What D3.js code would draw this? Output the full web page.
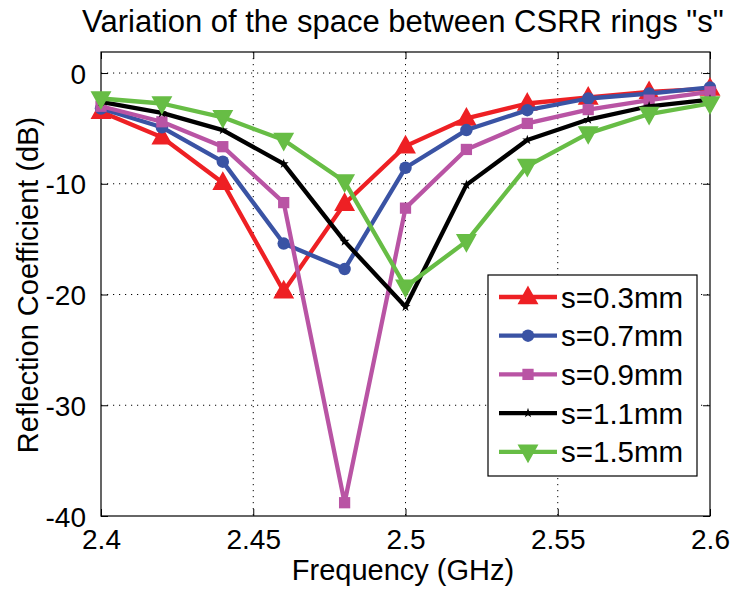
<!DOCTYPE html>
<html>
<head>
<meta charset="utf-8">
<script src="https://cdn.jsdelivr.net/npm/d3@7"></script>
<style>
  body { margin: 0; background: #fff; }
  text { font-family: "Liberation Sans", Arial, sans-serif; fill: #000; }
</style>
</head>
<body>
<div id="chart"></div>
<script>
// data
var freq = [2.40, 2.42, 2.44, 2.46, 2.48, 2.50, 2.52, 2.54, 2.56, 2.58, 2.60];
var s03 = [-3.5, -5.8, -9.9, -19.7, -11.8, -6.6, -4.1, -2.75, -2.2, -1.7, -1.4];
var s07 = [-3.2, -4.9, -8.0, -15.4, -17.7, -8.55, -5.15, -3.35, -2.3, -1.85, -1.3];
var s09 = [-3.0, -4.4, -6.65, -11.7, -38.8, -12.2, -6.9, -4.55, -3.3, -2.45, -1.7];
var s11 = [-2.6, -3.6, -5.15, -8.2, -15.2, -21.1, -10.1, -6.05, -4.2, -3.0, -2.4];
var s15 = [-2.3, -2.75, -4.0, -6.05, -9.8, -19.3, -15.2, -8.4, -5.45, -3.7, -2.75];
var seriesNames = ["s=0.3mm", "s=0.7mm", "s=0.9mm", "s=1.1mm", "s=1.5mm"];
var xTicks = [2.4, 2.45, 2.5, 2.55, 2.6];
var yTicks = [0, -10, -20, -30, -40];

var series = [
  {name: seriesNames[0], values: s03, color: "#ee2024", marker: "triUp"},
  {name: seriesNames[1], values: s07, color: "#3a53a4", marker: "circle"},
  {name: seriesNames[2], values: s09, color: "#b954a4", marker: "square"},
  {name: seriesNames[3], values: s11, color: "#000000", marker: "star"},
  {name: seriesNames[4], values: s15, color: "#67bd45", marker: "triDown"}
];

var W = 731, H = 590;
var margin = {top: 52, right: 21, bottom: 74, left: 101};
var width = W - margin.left - margin.right,
    height = H - margin.top - margin.bottom;

var svg = d3.select("#chart").append("svg")
  .attr("width", W)
  .attr("height", H);

var g = svg.append("g")
  .attr("transform", "translate(" + margin.left + "," + margin.top + ")");

var x = d3.scaleLinear().domain([2.4, 2.6]).range([0, width]);
var y = d3.scaleLinear().domain([-40, 1.9]).range([height, 0]);

// grid
g.selectAll(".vgrid").data(xTicks.slice(1, -1)).enter().append("line")
  .attr("x1", function(d) { return x(d); }).attr("x2", function(d) { return x(d); })
  .attr("y1", 0).attr("y2", height)
  .attr("stroke", "#000").attr("stroke-width", 1).attr("stroke-dasharray", "1.2,4.8");
g.selectAll(".hgrid").data(yTicks.slice(0, -1)).enter().append("line")
  .attr("x1", 0).attr("x2", width)
  .attr("y1", function(d) { return y(d); }).attr("y2", function(d) { return y(d); })
  .attr("stroke", "#000").attr("stroke-width", 1).attr("stroke-dasharray", "1.2,4.8");

// axes, ticks inside like matlab
var tickLen = 7;
var xAxis = d3.axisBottom(x).tickValues(xTicks).tickSizeInner(-tickLen).tickSizeOuter(0)
  .tickPadding(tickLen + 6).tickFormat(function(d) { return d3.format("")(+d.toFixed(2)); });
var yAxis = d3.axisLeft(y).tickValues(yTicks).tickSizeInner(-tickLen).tickSizeOuter(0)
  .tickPadding(tickLen + 8);

var gx = g.append("g").attr("transform", "translate(0," + height + ")").call(xAxis);
var gy = g.append("g").call(yAxis);
g.append("g").call(d3.axisTop(x).tickValues(xTicks).tickSizeInner(-tickLen).tickSizeOuter(0).tickFormat(""));
g.append("g").attr("transform", "translate(" + width + ",0)")
  .call(d3.axisRight(y).tickValues(yTicks).tickSizeInner(-tickLen).tickSizeOuter(0).tickFormat(""));

svg.selectAll(".domain").remove();
svg.selectAll(".tick line").attr("stroke", "#000");
gx.selectAll("text").style("font-size", "28px").attr("dy", "0.71em");
gy.selectAll("text").style("font-size", "28px").attr("dy", "0.36em")
  .text(function(d) { return d === 0 ? "0" : String(d).replace("\u2212", "-"); });

// box
g.append("rect").attr("width", width).attr("height", height)
  .attr("fill", "none").attr("stroke", "#000").attr("stroke-width", 1.2);

// lines
var line = d3.line()
  .x(function(d, i) { return x(freq[i]); })
  .y(function(d) { return y(d); });

function drawMarker(sel, type, color, s) {
  if (type === "triUp") {
    sel.append("path").attr("d", "M0," + (-s * 0.75) + "L" + (s * 0.7) + "," + (s * 0.5) + "L" + (-s * 0.7) + "," + (s * 0.5) + "Z")
      .attr("fill", color).attr("stroke", color).attr("stroke-width", 2);
  } else if (type === "triDown") {
    sel.append("path").attr("d", "M0," + (s * 0.75) + "L" + (s * 0.7) + "," + (-s * 0.5) + "L" + (-s * 0.7) + "," + (-s * 0.5) + "Z")
      .attr("fill", color).attr("stroke", color).attr("stroke-width", 2);
  } else if (type === "circle") {
    sel.append("circle").attr("r", s * 0.5).attr("fill", color);
  } else if (type === "square") {
    sel.append("rect").attr("x", -s * 0.45).attr("y", -s * 0.45).attr("width", s * 0.9).attr("height", s * 0.9)
      .attr("fill", color);
  } else if (type === "star") {
    sel.append("path").attr("d", d3.symbol().type(d3.symbolStar).size(s * 2.5)())
      .attr("fill", color);
  }
}

series.forEach(function(sr) {
  g.append("path")
    .datum(sr.values)
    .attr("d", line)
    .attr("fill", "none")
    .attr("stroke", sr.color)
    .attr("stroke-width", 4.3)
    .attr("stroke-linejoin", "round");

  g.selectAll(null)
    .data(sr.values)
    .enter().append("g")
    .attr("transform", function(d, i) { return "translate(" + x(freq[i]) + "," + y(d) + ")"; })
    .each(function() { drawMarker(d3.select(this), sr.marker, sr.color, 12.5); });
});

// legend
var lg = svg.append("g").attr("transform", "translate(488,275)");
lg.append("rect").attr("width", 209).attr("height", 201)
  .attr("fill", "#fff").attr("stroke", "#000").attr("stroke-width", 1.2);
series.forEach(function(sr, i) {
  var row = lg.append("g").attr("transform", "translate(0," + (22 + i * 38.7) + ")");
  row.append("line").attr("x1", 11).attr("x2", 69).attr("y1", 0).attr("y2", 0)
    .attr("stroke", sr.color).attr("stroke-width", 4.3);
  var m = row.append("g").attr("transform", "translate(40,0)");
  drawMarker(m, sr.marker, sr.color, 12.5);
  row.append("text").attr("x", 73).attr("y", 10.5)
    .style("font-size", "29.5px").text(sr.name);
});

// titles
svg.append("text").attr("x", 403).attr("y", 32).attr("text-anchor", "middle")
  .style("font-size", "31px").text("Variation of the space between CSRR rings \"s\"");
svg.append("text").attr("x", 403).attr("y", 580).attr("text-anchor", "middle")
  .style("font-size", "29px").text("Frequency (GHz)");
svg.append("text").attr("transform", "translate(38,285) rotate(-90)").attr("text-anchor", "middle")
  .style("font-size", "29px").text("Reflection Coefficient (dB)");
</script>
</body>
</html>
